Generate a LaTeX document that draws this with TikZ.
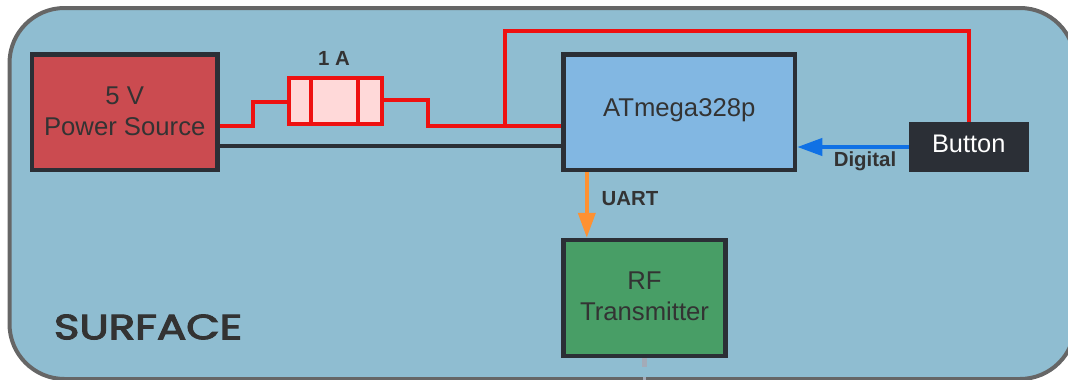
\documentclass[tikz,border=0pt]{standalone}
\usepackage{fontspec}
\setmainfont{Liberation Sans}
\newfontface\techfont[FakeBold=3]{Poppins}
\definecolor{bgblue}{HTML}{8FBDD1}
\definecolor{rimgrey}{HTML}{666666}
\definecolor{dark}{HTML}{2B2F36}
\definecolor{txt}{HTML}{333333}
\definecolor{pwred}{HTML}{CB4B50}
\definecolor{mcublue}{HTML}{82B7E2}
\definecolor{rfgreen}{HTML}{489E66}
\definecolor{wirered}{HTML}{EE1111}
\definecolor{fusefill}{HTML}{FFD9D9}
\definecolor{sigblue}{HTML}{1071E5}
\definecolor{sigorange}{HTML}{FE9132}
\definecolor{stubgrey}{HTML}{A3ABB8}
\usetikzlibrary{arrows.meta}
\tikzset{
  blockbox/.style={draw=dark,line width=4.5pt,text=txt,align=center,font=\fontsize{25.7}{31}\selectfont,inner sep=0pt},
  redwire/.style={draw=wirered,line width=4pt},
  blackwire/.style={draw=dark,line width=4.5pt},
  sigblueline/.style={draw=sigblue,line width=4pt},
  sigorangeline/.style={draw=sigorange,line width=4pt},
  tiptri/.style={-{Triangle[length=25pt,width=17pt]}},
  lbl/.style={text=txt,font=\fontsize{20.4}{22}\selectfont\bfseries,inner sep=0pt},
}
\begin{document}
\begin{tikzpicture}[x=1pt,y=-1pt]
\useasboundingbox (0,0) rectangle (1068,380);
\draw[draw=rimgrey,fill=bgblue,line width=4pt,rounded corners=55pt] (9.5,8) rectangle (1075,379);
\node[blockbox,fill=pwred,minimum width=185.5pt,minimum height=115.5pt] (power) at (124.75,112.25) {5 V\\Power Source\\[-29pt]};
\node[blockbox,fill=mcublue,minimum width=231.5pt,minimum height=115.5pt,text depth=9pt] (mcu) at (679.25,112.25) {ATmega328p};
\node[blockbox,fill=rfgreen,minimum width=162pt,minimum height=116pt] (rf) at (644.5,298) {RF\\Transmitter\\[-27pt]};
\node[draw=dark,fill=dark,line width=1pt,text=white,font=\fontsize{25.4}{28}\selectfont,minimum width=119pt,minimum height=49.5pt,inner sep=0pt,text depth=6pt] (button) at (968.75,147) {Button};
\node[draw=wirered,fill=fusefill,line width=4pt,minimum width=92.5pt,minimum height=46.5pt,inner sep=0pt] (fuse) at (335.25,100.75) {};
\draw[redwire] (311,77.5) -- (311,124);
\draw[redwire] (358,77.5) -- (358,124);
\node[lbl] (fuselabel) at (334,58) {1 A};
\draw[redwire] (power.east |- 0,125.5) -- (252.7,125.5) -- (252.7,102) -- (fuse.west |- 0,102);
\draw[redwire] (fuse.east |- 0,100) -- (427.5,100) -- (427.5,126) -- (mcu.west |- 0,126);
\draw[redwire] (504.5,126) -- (504.5,31) -- (969,31) -- (button.north -| 969,0);
\draw[blackwire] (power.east |- 0,146) -- (mcu.west |- 0,146);
\draw[sigblueline,tiptri] (button.west |- 0,147) -- (mcu.east |- 0,147);
\node[lbl] (digital) at (865,161.5) {Digital};
\draw[sigorangeline,tiptri] (mcu.south -| 586.8,0) -- (rf.north -| 586.8,0);
\node[lbl] (uart) at (630,198.5) {UART};
\coordinate (stubmid) at (644.7,367);
\coordinate (stubgap) at (644.7,377);
\coordinate (stubend) at (644.7,380);
\draw[draw=stubgrey,line width=4.5pt] (rf.south -| stubmid) -- (stubmid);
\draw[draw=stubgrey,line width=3.5pt] (stubgap) -- (stubend);
\node[text=txt,font=\techfont\fontsize{35}{37}\selectfont,inner sep=0pt] (surface) at (148,327) {\scalebox{1.24}[1]{SURFACE}};
\end{tikzpicture}
\end{document}
